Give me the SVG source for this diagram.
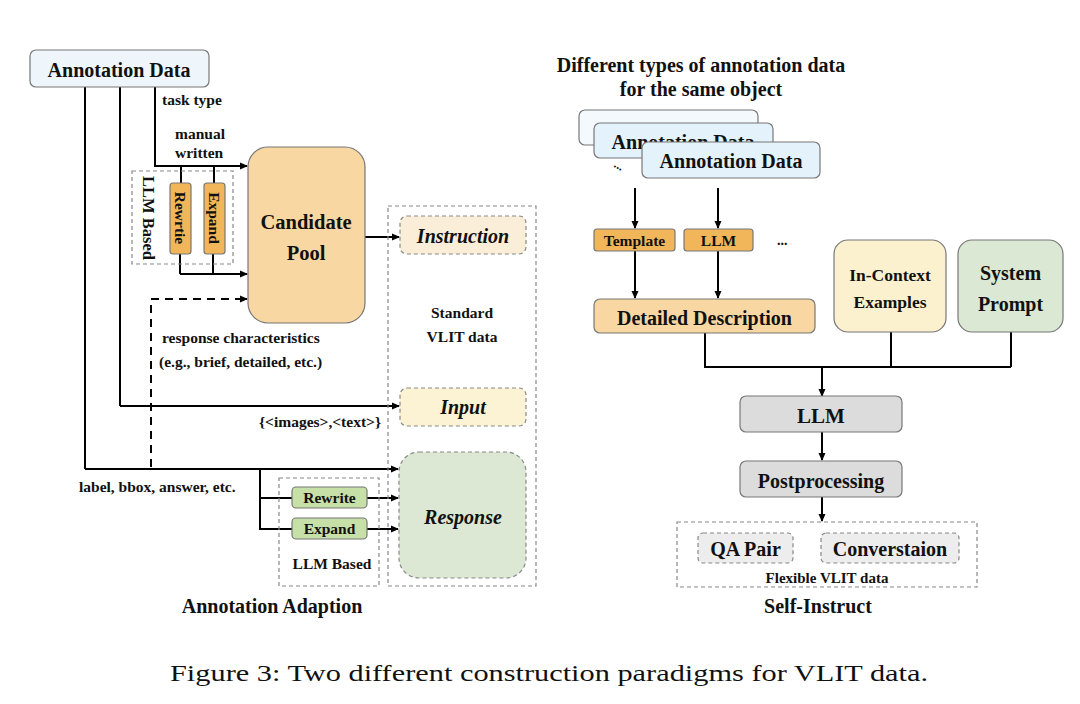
<svg xmlns="http://www.w3.org/2000/svg" width="1080" height="704" viewBox="0 0 1080 704">
<defs>
<marker id="ah" markerWidth="8" markerHeight="8" refX="7" refY="4" orient="auto" markerUnits="userSpaceOnUse">
<path d="M0,0.5 L8,4 L0,7.5 Z" fill="#000"/>
</marker>
<style>
text{font-family:"Liberation Serif","Times New Roman",serif;font-weight:bold;fill:#111;}
.c{text-anchor:middle;}
.it{font-style:italic;}
.s{font-size:15.5px;}
.L{font-size:20px;}
.box{stroke:#777;stroke-width:1.2;}
.dbox{stroke:#888;stroke-width:1.2;stroke-dasharray:4,3;}
.ln{stroke:#000;stroke-width:2;fill:none;}
.ar{stroke:#000;stroke-width:2;fill:none;marker-end:url(#ah);}
.dash{stroke:#000;stroke-width:2;fill:none;stroke-dasharray:8,6;}
</style>
</defs>
<rect width="1080" height="704" fill="#fff"/>

<!-- connectors -->
<g id="connectors">
<path class="ln" d="M155,87 V166 H247"/>
<path class="ar" d="M155,166 H247"/>
<path class="ln" d="M181,166 V183 M214,166 V183"/>
<path class="ln" d="M180,254 V274 M213,254 V274"/>
<path class="ar" d="M180,274 H247"/>
<path class="dash" d="M151,467 V299 H238"/>
<path class="ar" d="M236,299 H247"/>
<path class="ar" d="M365,237 H399"/>
<path class="ln" d="M120,87 V406"/>
<path class="ar" d="M120,406 H399"/>
<path class="ln" d="M85,87 V469"/>
<path class="ar" d="M85,469 H398"/>
<path class="ln" d="M260,469 V529 H292 M260,498 H292"/>
<path class="ar" d="M367,498 H398"/>
<path class="ar" d="M367,529 H398"/>

<path class="ar" d="M635,188 V228"/>
<path class="ar" d="M718,188 V228"/>
<path class="ar" d="M635,251 V298"/>
<path class="ar" d="M718,251 V298"/>
<path class="ln" d="M705,333 V367 H1011 M891,332 V367 M1011,332 V367"/>
<path class="ar" d="M822,367 V396"/>
<path class="ar" d="M822,432 V460"/>
<path class="ar" d="M822,497 V521"/>
</g>

<!-- left: annotation adaption -->
<g id="annotation-data">
<rect class="box" x="30" y="50" width="179" height="37" rx="6" fill="#eef6fb"/>
<text class="c L" x="119" y="77">Annotation Data</text>
</g>
<g id="labels-left">
<text class="s" x="162" y="105">task type</text>
<text class="s" x="175" y="139">manual</text>
<text class="s" x="175" y="158">written</text>
<text class="s" x="162" y="343">response characteristics</text>
<text class="s" x="159" y="367">(e.g., brief, detailed, etc.)</text>
<text class="s" x="259" y="427">{&lt;images&gt;,&lt;text&gt;}</text>
<text class="s" x="79" y="492">label, bbox, answer, etc.</text>
</g>
<g id="llm-based-top">
<rect class="dbox" x="132" y="171" width="101" height="93" fill="none"/>
<text class="c" font-size="16.5" transform="translate(143,218) rotate(90)">LLM Based</text>
</g>
<g id="rewrtie">
<rect class="box" x="170" y="183" width="21" height="71" rx="3" fill="#f2b65a"/>
<text class="c s" transform="translate(175,218) rotate(90)">Rewrtie</text>
</g>
<g id="expand-top">
<rect class="box" x="204" y="183" width="21" height="71" rx="3" fill="#f2b65a"/>
<text class="c s" transform="translate(209,218) rotate(90)">Expand</text>
</g>
<g id="candidate-pool">
<rect class="box" x="248" y="147" width="117" height="176" rx="20" fill="#f8d7a3"/>
<text class="c" x="306" y="229" font-size="20.5">Candidate</text>
<text class="c" x="306" y="260" font-size="20.5">Pool</text>
</g>
<g id="standard-vlit">
<rect class="dbox" x="388" y="206" width="148" height="380" fill="none"/>
<text class="c s" x="462" y="318">Standard</text>
<text class="c s" x="462" y="342">VLIT data</text>
</g>
<g id="instruction">
<rect class="dbox" x="400" y="216" width="126" height="38" rx="7" fill="#fbeed9"/>
<text class="c it L" x="463" y="243">Instruction</text>
</g>
<g id="input">
<rect class="dbox" x="400" y="388" width="126" height="38" rx="7" fill="#fbf3d3"/>
<text class="c it L" x="463" y="414">Input</text>
</g>
<g id="response">
<rect class="dbox" x="399" y="452" width="127" height="126" rx="20" fill="#dce8d4"/>
<text class="c it L" x="463" y="524">Response</text>
</g>
<g id="llm-based-bottom">
<rect class="dbox" x="279" y="478" width="100" height="108" fill="none"/>
<text class="c s" x="332" y="569">LLM Based</text>
</g>
<g id="rewrite">
<rect class="box" x="292" y="487" width="75" height="21" rx="4" fill="#c6e0a8"/>
<text class="c s" x="329.5" y="503">Rewrite</text>
</g>
<g id="expand-bottom">
<rect class="box" x="292" y="518" width="75" height="21" rx="4" fill="#c6e0a8"/>
<text class="c s" x="329.5" y="534">Expand</text>
</g>
<text class="c L" x="272" y="613">Annotation Adaption</text>

<!-- right: self-instruct -->
<g id="title-right">
<text class="c L" x="701" y="72">Different types of annotation data</text>
<text class="c L" x="701" y="96">for the same object</text>
</g>
<g id="annotation-stack">
<rect class="box" x="579" y="110" width="179" height="35" rx="6" fill="#f3f9fd"/>
<rect class="box" x="594" y="123" width="179" height="35" rx="6" fill="#e4f2fb"/>
<text class="c L" x="683" y="149">Annotation Data</text>
<rect class="box" x="642" y="142" width="178" height="36" rx="6" fill="#e4f2fb"/>
<text class="c L" x="731" y="168">Annotation Data</text>
<text x="614" y="170" font-size="12" transform="rotate(30,620,167)">...</text>
</g>
<g id="template">
<rect class="box" x="594" y="229" width="81" height="22" rx="3" fill="#f2b65a"/>
<text class="c s" x="634.5" y="246">Template</text>
</g>
<g id="llm-small">
<rect class="box" x="684" y="229" width="69" height="22" rx="3" fill="#f2b65a"/>
<text class="c s" x="718.5" y="246">LLM</text>
</g>
<text x="777" y="245" font-size="14">...</text>
<g id="detailed-description">
<rect class="box" x="594" y="299" width="221" height="34" rx="6" fill="#f8d7a3"/>
<text class="c L" x="704.5" y="325">Detailed Description</text>
</g>
<g id="in-context-examples">
<rect class="box" x="834" y="240" width="112" height="92" rx="14" fill="#fcf1cf"/>
<text class="c" x="890" y="281" font-size="17.5">In-Context</text>
<text class="c" x="890" y="308" font-size="17.5">Examples</text>
</g>
<g id="system-prompt">
<rect class="box" x="958" y="240" width="105" height="92" rx="14" fill="#dbe8d3"/>
<text class="c L" x="1010.5" y="280">System</text>
<text class="c L" x="1010.5" y="311">Prompt</text>
</g>
<g id="llm">
<rect class="box" x="740" y="396" width="162" height="36" rx="6" fill="#dcdcdc"/>
<text class="c" x="821" y="423" font-size="21">LLM</text>
</g>
<g id="postprocessing">
<rect class="box" x="740" y="461" width="162" height="36" rx="6" fill="#dcdcdc"/>
<text class="c L" x="821" y="488">Postprocessing</text>
</g>
<g id="flexible-vlit">
<rect class="dbox" x="677" y="522" width="300" height="65" fill="none"/>
<text class="c" x="827" y="583" font-size="15">Flexible VLIT data</text>
</g>
<g id="qa-pair">
<rect class="dbox" x="698" y="533" width="95" height="30" rx="5" fill="#ededed"/>
<text class="c L" x="745.5" y="556">QA Pair</text>
</g>
<g id="converstaion">
<rect class="dbox" x="821" y="533" width="138" height="30" rx="5" fill="#ededed"/>
<text class="c L" x="890" y="556">Converstaion</text>
</g>
<text class="c L" x="818" y="613">Self-Instruct</text>

<text x="170" y="681" font-size="23" style="font-weight:normal" textLength="758" lengthAdjust="spacingAndGlyphs">Figure 3: Two different construction paradigms for VLIT data.</text>
</svg>
